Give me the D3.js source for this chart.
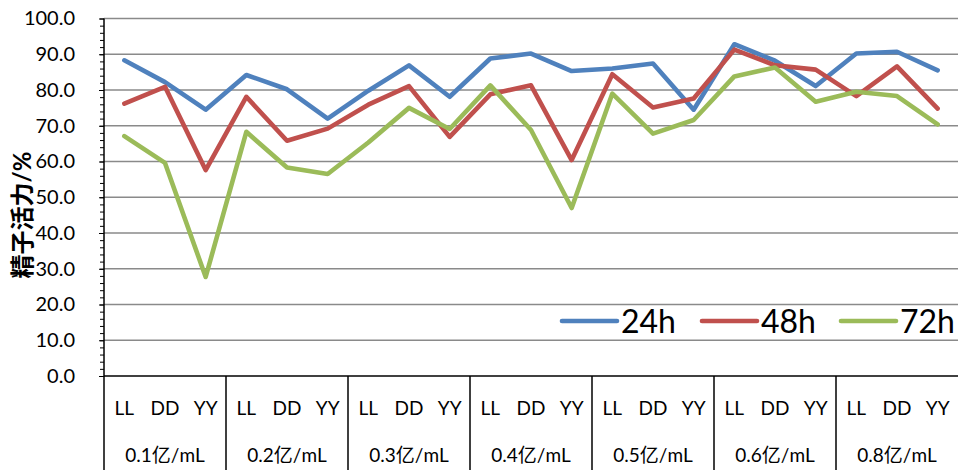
<!DOCTYPE html>
<html><head><meta charset="utf-8">
<script src="https://cdn.jsdelivr.net/npm/d3@7"></script>
<style>body{margin:0;background:#fff}svg{display:block}</style>
</head><body>
<svg id="c" width="958" height="470"></svg>
<script>
const groups = ["0.1亿/mL","0.2亿/mL","0.3亿/mL","0.4亿/mL","0.5亿/mL","0.6亿/mL","0.8亿/mL"];
const subs = ["LL","DD","YY"];
const seriesNames = ["24h","48h","72h"];
const s24 = [88.3, 82.2, 74.5, 84.2, 80.2, 72.0, 79.8, 86.9, 78.1, 88.8, 90.2, 85.3, 86.0, 87.4, 74.5, 92.8, 88.2, 81.1, 90.2, 90.7, 85.5];
const s48 = [76.2, 80.9, 57.6, 78.1, 65.8, 69.2, 75.9, 81.1, 66.9, 78.8, 81.3, 60.4, 84.4, 75.1, 77.6, 91.3, 86.9, 85.7, 78.3, 86.6, 74.8];
const s72 = [67.1, 59.6, 27.7, 68.3, 58.3, 56.5, 65.3, 75.0, 69.1, 81.3, 68.8, 47.0, 79.0, 67.8, 71.6, 83.8, 86.3, 76.7, 79.5, 78.3, 70.4];
const yTicks = [0,10,20,30,40,50,60,70,80,90,100];
const yTitle = "精子活力/%";
const colors = ["#4F81BD","#C0504D","#9BBB59"];

const svg = d3.select("#c");
const L = 104, R = 958, T = 18.5, B = 376, H = 470;
const cats = [];
groups.forEach(g => subs.forEach(s => cats.push(g + "|" + s)));
const x = d3.scaleBand().domain(cats).range([L, R]).padding(0);
const y = d3.scaleLinear().domain([0, 100]).range([B, T]);
const cx = d => x(d) + x.bandwidth() / 2;
const font = "Lato, 'Noto Sans CJK SC', sans-serif";

// gridlines
svg.append("g").selectAll("line").data(yTicks.filter(v => v > 0)).join("line")
  .attr("x1", L).attr("x2", R).attr("y1", d => y(d)).attr("y2", d => y(d))
  .attr("stroke", "#8a8a8a").attr("stroke-width", 1.4);

// minor ticks
const minor = svg.append("g").attr("transform", `translate(${L},0)`)
  .call(d3.axisLeft(y).tickValues(d3.range(0, 101, 2)).tickSize(4).tickFormat(""));
minor.select(".domain").remove();
minor.selectAll("line").attr("stroke", "#000").attr("stroke-width", 1);

// major axis
const yAx = svg.append("g").attr("transform", `translate(${L},0)`)
  .call(d3.axisLeft(y).tickValues(yTicks).tickSize(5).tickPadding(24).tickFormat(d3.format(".1f")));
yAx.select(".domain").remove();
yAx.selectAll("line").attr("stroke", "#000").attr("stroke-width", 1);
yAx.selectAll("text").attr("font-family", font).attr("font-size", 20).attr("fill", "#000");

// axis lines
svg.append("line").attr("x1", L).attr("x2", L).attr("y1", T).attr("y2", H).attr("stroke", "#000").attr("stroke-width", 1.5);
svg.append("line").attr("x1", L).attr("x2", R).attr("y1", B).attr("y2", B).attr("stroke", "#000").attr("stroke-width", 1.5);

// group separators
svg.append("g").selectAll("line").data(groups.slice(1)).join("line")
  .attr("x1", d => x(d + "|LL")).attr("x2", d => x(d + "|LL"))
  .attr("y1", B).attr("y2", H).attr("stroke", "#000").attr("stroke-width", 1.5);

// category labels
const xAx = svg.append("g").attr("transform", `translate(0,${B})`)
  .call(d3.axisBottom(x).tickSize(0).tickPadding(0).tickFormat(d => d.split("|")[1]));
xAx.select(".domain").remove();
xAx.selectAll("text").attr("dy", null).attr("y", 39).attr("font-family", font).attr("font-size", 19).attr("fill", "#000");

// group labels
svg.append("g").selectAll("text").data(groups).join("text")
  .attr("x", d => (x(d + "|LL") + x(d + "|YY") + x.bandwidth()) / 2)
  .attr("y", 462).attr("text-anchor", "middle")
  .attr("font-family", font).attr("font-size", 19).attr("fill", "#000").text(d => d);

// y title
svg.append("text").attr("transform", "translate(31,215) rotate(-90)")
  .attr("text-anchor", "middle").attr("font-family", font)
  .attr("font-size", 24).attr("font-weight", "bold").attr("fill", "#000").text(yTitle);

// series
const series = [s24, s48, s72];
const line = d3.line().x((d, i) => cx(cats[i])).y(d => y(d));
svg.append("g").selectAll("path").data(series).join("path")
  .attr("d", d => line(d)).attr("fill", "none")
  .attr("stroke", (d, i) => colors[i]).attr("stroke-width", 4.6)
  .attr("stroke-linejoin", "round").attr("stroke-linecap", "round");

// legend
const legX = [562, 702, 841];
const lg = svg.append("g").selectAll("g").data(seriesNames).join("g")
  .attr("transform", (d, i) => `translate(${legX[i]},321)`);
lg.append("line").attr("x1", 0).attr("x2", 55).attr("y1", 0).attr("y2", 0)
  .attr("stroke", (d, i) => colors[i]).attr("stroke-width", 4.6).attr("stroke-linecap", "round");
lg.append("text").attr("x", 59).attr("y", 12).attr("font-family", font)
  .attr("font-size", 32).attr("fill", "#000").text(d => d);
</script>
</body></html>
